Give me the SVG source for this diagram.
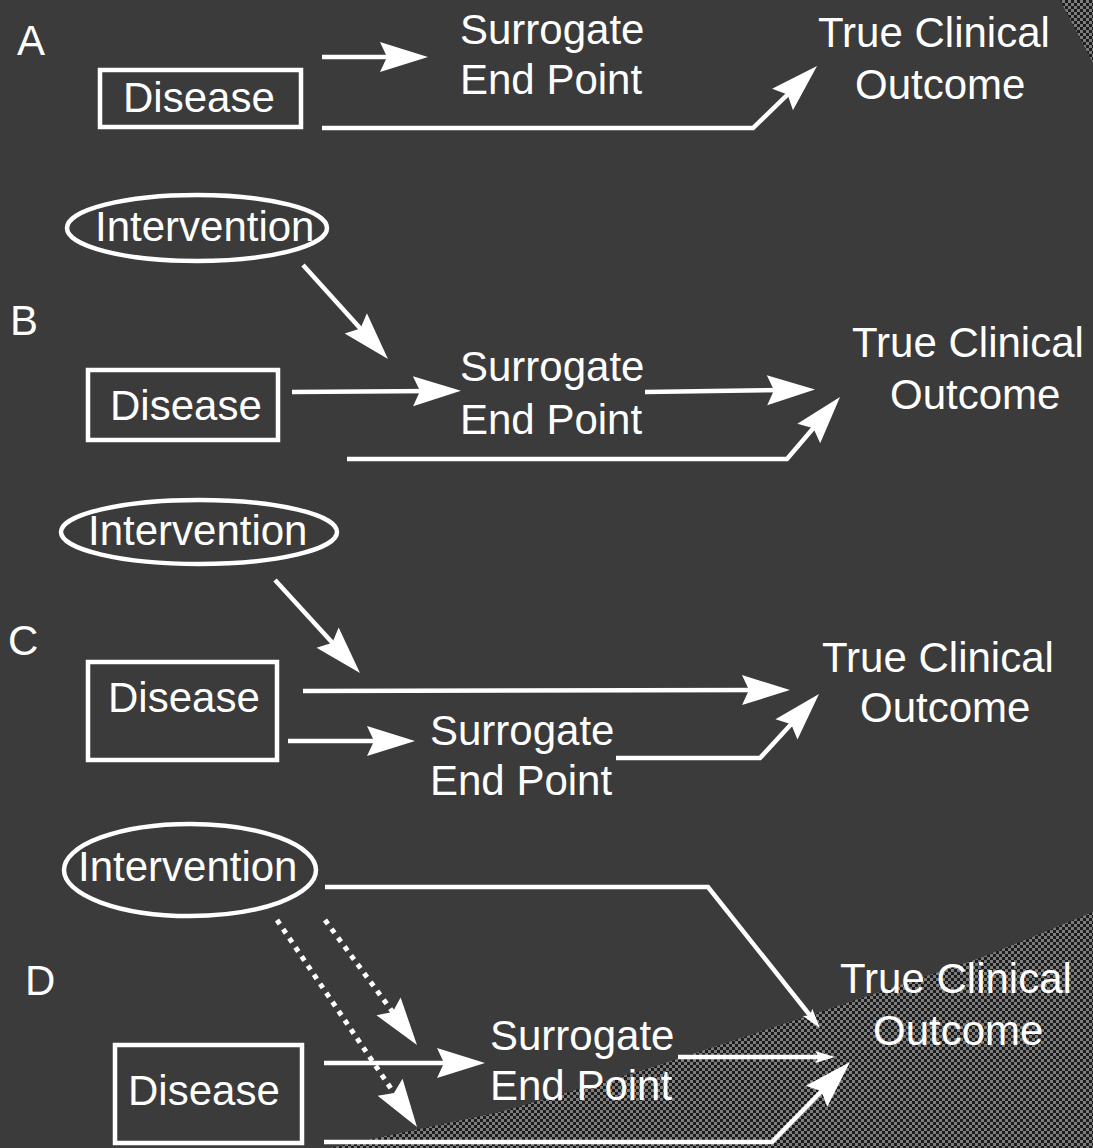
<svg xmlns="http://www.w3.org/2000/svg" width="1093" height="1148" viewBox="0 0 1093 1148">
<style>
.t{font-family:"Liberation Sans",Arial,sans-serif;font-size:42px;fill:#ffffff}
.box{fill:none;stroke:#ffffff;stroke-width:4.5}
.ln{fill:none;stroke:#ffffff;stroke-width:4.5}
.big{marker-end:url(#ah)}
.sm{marker-end:url(#as)}
.dot{fill:none;stroke:#ffffff;stroke-width:5;stroke-dasharray:5 6}
</style>
<defs>
<pattern id="chk" width="6" height="6" patternUnits="userSpaceOnUse">
<rect width="6" height="6" fill="#1c1c1c"/>
<rect width="3" height="3" fill="#7c7c7c"/>
<rect x="3" y="3" width="3" height="3" fill="#7c7c7c"/>
</pattern>
<marker id="ah" markerUnits="userSpaceOnUse" orient="auto" refX="20" refY="0" markerWidth="60" markerHeight="40" overflow="visible">
<path d="M0,-15 L48,0 L0,15 L7,0 Z" fill="#ffffff"/>
</marker>
<marker id="as" markerUnits="userSpaceOnUse" orient="auto" refX="10" refY="0" markerWidth="30" markerHeight="20" overflow="visible">
<path d="M0,-6 L20,0 L0,6 L4,0 Z" fill="#ffffff"/>
</marker>
</defs>
<rect width="1093" height="1148" fill="#3b3b3b"/>
<path d="M1060,0 L1093,0 L1093,63 Z" fill="url(#chk)"/>
<path d="M1093,912 L1030,938 L980,958 L820,1012 L650,1068 L500,1112 L367,1140 L330,1148 L1093,1148 Z" fill="url(#chk)"/>

<g id="connectors">
<line class="ln big" x1="322" y1="57" x2="400" y2="57"/>
<polyline class="ln big" points="322,128 753,128 796.9,85.5"/>
<line class="ln big" x1="303" y1="265" x2="369.2" y2="338.2"/>
<line class="ln big" x1="292" y1="392" x2="433" y2="391"/>
<line class="ln big" x1="645" y1="392" x2="787" y2="390"/>
<polyline class="ln big" points="347,459 787,459 821.8,418.3"/>
<line class="ln big" x1="275" y1="580" x2="341.1" y2="652.3"/>
<line class="ln big" x1="303" y1="691" x2="762" y2="690"/>
<line class="ln big" x1="288" y1="741" x2="387" y2="741"/>
<polyline class="ln big" points="616,758 760,758 800,714.6"/>
<polyline class="ln sm" points="325,887 708,887 813.8,1020.2"/>
<line class="dot big" x1="325" y1="920" x2="400.4" y2="1022.5"/>
<line class="dot big" x1="277" y1="920" x2="401.3" y2="1103.8"/>
<line class="ln big" x1="324" y1="1063" x2="457" y2="1063"/>
<line class="ln sm" x1="678" y1="1057" x2="825" y2="1057"/>
<polyline class="ln big" points="324,1142 772,1142 830.5,1082"/>
</g>

<g id="panelA">
<text class="t" x="17" y="55">A</text>
<g id="A-disease"><rect class="box" x="100" y="70" width="201" height="57"/><text class="t" x="123" y="112">Disease</text></g>
<g id="A-surrogate"><text class="t" x="460" y="44">Surrogate</text><text class="t" x="460" y="94">End Point</text></g>
<g id="A-outcome"><text class="t" x="818" y="47">True Clinical</text><text class="t" x="855" y="99">Outcome</text></g>
</g>

<g id="panelB">
<text class="t" x="10" y="335">B</text>
<g id="B-intervention"><ellipse class="box" cx="197" cy="228" rx="130" ry="33"/><text class="t" x="95" y="241">Intervention</text></g>
<g id="B-disease"><rect class="box" x="88" y="370" width="190" height="70"/><text class="t" x="110" y="420">Disease</text></g>
<g id="B-surrogate"><text class="t" x="460" y="381">Surrogate</text><text class="t" x="460" y="434">End Point</text></g>
<g id="B-outcome"><text class="t" x="852" y="357">True Clinical</text><text class="t" x="890" y="409">Outcome</text></g>
</g>

<g id="panelC">
<text class="t" x="8" y="655">C</text>
<g id="C-intervention"><ellipse class="box" cx="199" cy="532" rx="138" ry="32"/><text class="t" x="88" y="545">Intervention</text></g>
<g id="C-disease"><rect class="box" x="88" y="662" width="189" height="98"/><text class="t" x="108" y="712">Disease</text></g>
<g id="C-surrogate"><text class="t" x="430" y="745">Surrogate</text><text class="t" x="430" y="795">End Point</text></g>
<g id="C-outcome"><text class="t" x="822" y="672">True Clinical</text><text class="t" x="860" y="722">Outcome</text></g>
</g>

<g id="panelD">
<text class="t" x="25" y="995">D</text>
<g id="D-intervention"><ellipse class="box" cx="190" cy="870" rx="126" ry="46"/><text class="t" x="78" y="881">Intervention</text></g>
<g id="D-disease"><rect class="box" x="115" y="1045" width="187" height="98"/><text class="t" x="128" y="1105">Disease</text></g>
<g id="D-surrogate"><text class="t" x="490" y="1050">Surrogate</text><text class="t" x="490" y="1100">End Point</text></g>
<g id="D-outcome"><text class="t" x="840" y="993">True Clinical</text><text class="t" x="873" y="1045">Outcome</text></g>
</g>
</svg>
